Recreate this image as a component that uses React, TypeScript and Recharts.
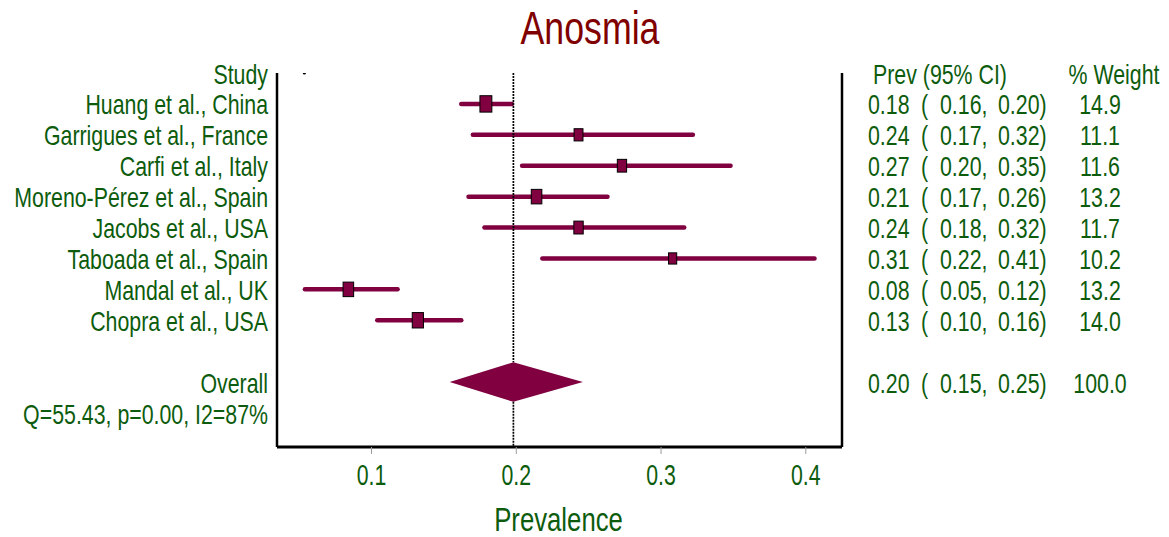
import React from 'react';
import {
  ComposedChart,
  XAxis,
  YAxis,
  Scatter,
  ReferenceLine,
  ReferenceArea,
} from 'recharts';

// ---------- data ----------
const studies = [
  'Huang et al., China',
  'Garrigues et al., France',
  'Carfi et al., Italy',
  'Moreno-Pérez et al., Spain',
  'Jacobs et al., USA',
  'Taboada et al., Spain',
  'Mandal et al., UK',
  'Chopra et al., USA',
];
const estimates = [0.179, 0.243, 0.273, 0.214, 0.243, 0.308, 0.084, 0.132];
const lowers = [0.162, 0.17, 0.204, 0.167, 0.178, 0.218, 0.054, 0.104];
const uppers = [0.197, 0.322, 0.348, 0.263, 0.316, 0.406, 0.118, 0.162];
const weights = [14.9, 11.1, 11.6, 13.2, 11.7, 10.2, 13.2, 14.0];
const studyRows = [1, 2, 3, 4, 5, 6, 7, 8];

const overallLabel = 'Overall';
const overallEstimate = 0.198;
const overallLower = 0.154;
const overallUpper = 0.246;
const overallWeight = 100.0;
const overallRow = 10;
const diamondHalfHeight = 0.64; // in row units

const headerRow = 0;
const headerStudy = 'Study';
const headerPrev = 'Prev (95% CI)';
const headerWeight = '% Weight';
const heterogeneityText = 'Q=55.43, p=0.00, I2=87%';
const heterogeneityRow = 11;

const strayDot = [{ x: 0.0536, y: 0 }];

const xTicks = [0.1, 0.2, 0.3, 0.4];
const xDomain = [0.0347, 0.425];
const rowDomain = [0, 12.1];

const title = 'Anosmia';
const xLabel = 'Prevalence';

// ---------- styles ----------
const GREEN = '#0d5c0d';
const MAROON = '#800040';
const TITLE_COLOR = '#800000';
const FONT = "'Liberation Sans', Arial, sans-serif";
const FS = 27;
const SQUEEZE = 0.79;

const NText = (p: {
  x: number;
  y: number;
  anchor?: 'start' | 'middle' | 'end';
  size?: number;
  squeeze?: number;
  fill?: string;
  children: React.ReactNode;
}) => (
  <text
    transform={`translate(${p.x} ${p.y}) scale(${p.squeeze || SQUEEZE} 1)`}
    x={0}
    y={0}
    textAnchor={p.anchor || 'start'}
    fontSize={p.size || FS}
    fill={p.fill || GREEN}
    fontFamily={FONT}
    style={{ whiteSpace: 'pre' }}
  >
    {p.children}
  </text>
);

const leftLabels: Record<number, string> = {};
leftLabels[headerRow] = headerStudy;
studyRows.forEach((r, i) => (leftLabels[r] = studies[i]));
leftLabels[overallRow] = overallLabel;
leftLabels[heterogeneityRow] = heterogeneityText;
const leftTicks = Object.keys(leftLabels).map(Number);

type Stat = { est: number; lo: number; hi: number; w: number };
const rightStats: Record<number, Stat> = {};
studyRows.forEach((r, i) => (rightStats[r] = { est: estimates[i], lo: lowers[i], hi: uppers[i], w: weights[i] }));
rightStats[overallRow] = { est: overallEstimate, lo: overallLower, hi: overallUpper, w: overallWeight };
const rightTicks = [headerRow, ...Object.keys(rightStats).map(Number)];

const squares = studyRows.map((r, i) => ({ x: estimates[i], y: r, w: weights[i] }));

const DY = 10.5;

const LeftTick = (props: any) => {
  const { x, y, payload } = props;
  const label = leftLabels[payload.value];
  if (!label) return null;
  return (
    <NText x={x} y={y + DY} anchor="end">
      {label}
    </NText>
  );
};

const RightTick = (props: any) => {
  const { x, y, payload } = props;
  const v = payload.value;
  const by = y + DY;
  if (v === headerRow) {
    return (
      <g>
        <NText x={x + 5} y={by}>{headerPrev}</NText>
        <NText x={x + 246} y={by} anchor="middle">{headerWeight}</NText>
      </g>
    );
  }
  const s = rightStats[v];
  if (!s) return null;
  return (
    <g>
      <NText x={x} y={by}>{s.est.toFixed(2)}</NText>
      <NText x={x + 53} y={by}>(</NText>
      <NText x={x + 72} y={by}>{s.lo.toFixed(2) + ','}</NText>
      <NText x={x + 130} y={by}>{s.hi.toFixed(2) + ')'}</NText>
      <NText x={x + 232} y={by} anchor="middle">{s.w.toFixed(1)}</NText>
    </g>
  );
};

const XTick = (props: any) => {
  const { x, y, payload } = props;
  return (
    <NText x={x} y={y + 29} anchor="middle" size={30} squeeze={0.71}>
      {String(payload.value)}
    </NText>
  );
};

const SquareShape = (props: any) => {
  const { cx, cy, payload } = props;
  const w = payload.w * 0.8;
  const h = payload.w * 1.1;
  return <rect x={cx - w / 2} y={cy - h / 2} width={w} height={h} fill={MAROON} stroke="#000" strokeWidth={1} />;
};

const DotShape = (props: any) => {
  const { cx, cy } = props;
  return <circle cx={cx} cy={cy} r={1.6} fill="#000" />;
};

const DiamondShape = (props: any) => {
  const { x, y, width, height } = props;
  const f = (overallEstimate - overallLower) / (overallUpper - overallLower);
  const pts = [
    [x, y + height / 2],
    [x + f * width, y],
    [x + width, y + height / 2],
    [x + f * width, y + height],
  ]
    .map((p) => p.join(','))
    .join(' ');
  return <polygon points={pts} fill={MAROON} stroke="none" />;
};

const XLabel = (props: any) => {
  const vb = props.viewBox || { x: 277, y: 447, width: 565 };
  return (
    <NText x={vb.x + vb.width / 2 - 1} y={vb.y + 84} anchor="middle" size={33} squeeze={0.78}>
      {xLabel}
    </NText>
  );
};

// vertical reference line split around the diamond (the diamond hides it)
const refSegments = [
  [rowDomain[0], overallRow - diamondHalfHeight],
  [overallRow + diamondHalfHeight, rowDomain[1]],
];

export default function App() {
  return (
    <div style={{ position: 'absolute', left: 0, top: 0, width: 1169, height: 537, background: '#fff' }}>
      <ComposedChart
        width={1169}
        height={537}
        margin={{ top: 73, right: 0, bottom: 0, left: 0 }}
        style={{ fontFamily: FONT }}
      >
        <XAxis
          type="number"
          dataKey="x"
          domain={xDomain}
          allowDataOverflow
          ticks={xTicks}
          interval={0}
          height={90}
          tickSize={7}
          axisLine={{ stroke: '#000', strokeWidth: 3 }}
          tickLine={{ stroke: '#999', strokeWidth: 1 }}
          tick={<XTick />}
          label={<XLabel />}
        />
        <YAxis
          yAxisId="left"
          orientation="left"
          type="number"
          dataKey="y"
          domain={rowDomain}
          allowDataOverflow
          reversed
          ticks={leftTicks}
          interval={0}
          width={277}
          tickSize={0}
          tickMargin={9}
          tickLine={false}
          axisLine={{ stroke: '#000', strokeWidth: 2.5 }}
          tick={<LeftTick />}
        />
        <YAxis
          yAxisId="right"
          orientation="right"
          type="number"
          domain={rowDomain}
          allowDataOverflow
          reversed
          ticks={rightTicks}
          interval={0}
          width={327}
          tickSize={0}
          tickMargin={26}
          tickLine={false}
          axisLine={{ stroke: '#000', strokeWidth: 2.5 }}
          tick={<RightTick />}
        />
        {studyRows.map((r, i) => (
          <ReferenceLine
            key={'ci' + i}
            yAxisId="left"
            segment={[
              { x: lowers[i], y: r },
              { x: uppers[i], y: r },
            ]}
            stroke={MAROON}
            strokeWidth={4.5}
            strokeLinecap="round"
            ifOverflow="visible"
          />
        ))}
        {refSegments.map((s, i) => (
          <ReferenceLine
            key={'ref' + i}
            yAxisId="left"
            segment={[
              { x: overallEstimate, y: s[0] },
              { x: overallEstimate, y: s[1] },
            ]}
            stroke="#000"
            strokeWidth={1.7}
            strokeDasharray="2 1"
            ifOverflow="visible"
          />
        ))}
        <ReferenceArea
          yAxisId="left"
          x1={overallLower}
          x2={overallUpper}
          y1={overallRow - diamondHalfHeight}
          y2={overallRow + diamondHalfHeight}
          ifOverflow="visible"
          fillOpacity={1}
          shape={<DiamondShape />}
        />
        <Scatter yAxisId="left" data={strayDot} dataKey="y" shape={<DotShape />} isAnimationActive={false} />
        <Scatter yAxisId="left" data={squares} dataKey="y" shape={<SquareShape />} isAnimationActive={false} />
      </ComposedChart>
      <svg width={1169} height={60} style={{ position: 'absolute', left: 0, top: 0, pointerEvents: 'none' }}>
        <NText x={590} y={44} anchor="middle" size={47} squeeze={0.76} fill={TITLE_COLOR}>
          {title}
        </NText>
      </svg>
    </div>
  );
}
